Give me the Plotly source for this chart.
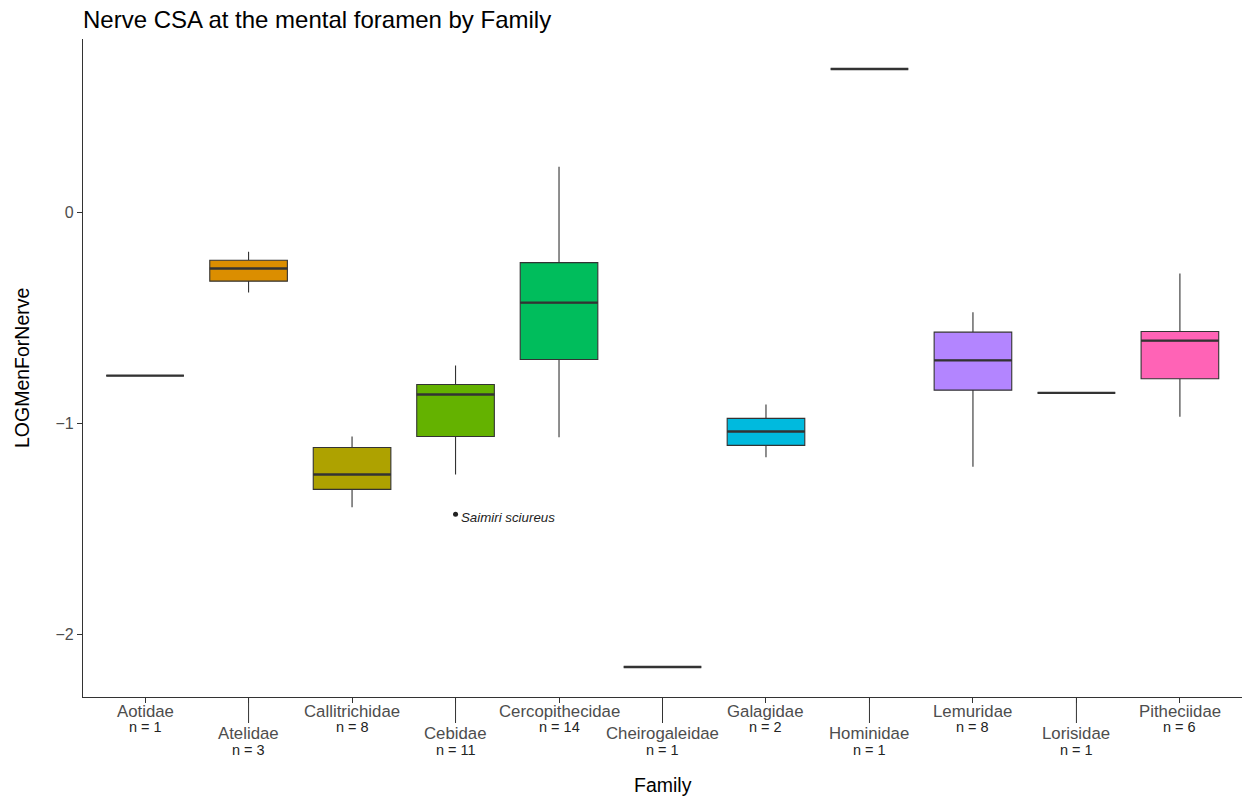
import plotly.graph_objects as go

families = ["Aotidae", "Atelidae", "Callitrichidae", "Cebidae", "Cercopithecidae",
            "Cheirogaleidae", "Galagidae", "Hominidae", "Lemuridae", "Lorisidae", "Pitheciidae"]
counts = [1, 3, 8, 11, 14, 1, 2, 1, 8, 1, 6]
lower = [-0.773, -0.379, -1.398, -1.242, -1.066, -2.156, -1.161, 0.682, -1.205, -0.855, -0.968]
q1 = [-0.773, -0.325, -1.313, -1.062, -0.697, -2.156, -1.104, 0.682, -0.842, -0.855, -0.788]
median = [-0.773, -0.265, -1.242, -0.863, -0.427, -2.156, -1.038, 0.682, -0.701, -0.855, -0.607]
q3 = [-0.773, -0.226, -1.114, -0.815, -0.237, -2.156, -0.976, 0.682, -0.567, -0.855, -0.564]
upper = [-0.773, -0.185, -1.062, -0.725, 0.218, -2.156, -0.910, 0.682, -0.472, -0.855, -0.289]
colors = ["#F8766D", "#DB8E00", "#AEA200", "#64B200", "#00BD5C", "#00C1A7",
          "#00BADE", "#00A6FF", "#B385FF", "#EF67EB", "#FF63B6"]
outlier_family = "Cebidae"
outlier_value = -1.431
outlier_label = "Saimiri sciureus"

FONT = "Liberation Sans, Arial, sans-serif"
BOXW = 0.75
W, H = 1245, 801
PLOT_H = 658

fig = go.Figure()
shapes = []
annotations = []
for i, fam in enumerate(families):
    fig.add_trace(go.Box(
        x=[i], q1=[q1[i]], median=[median[i]], q3=[q3[i]],
        lowerfence=[lower[i]], upperfence=[upper[i]],
        width=BOXW, fillcolor=colors[i], whiskerwidth=0,
        line=dict(color="#333333", width=1.1), boxpoints=False,
        showlegend=False, name=fam))
    shapes.append(dict(type="line", xref="x", yref="y",
                       x0=i - BOXW / 2, x1=i + BOXW / 2, y0=median[i], y1=median[i],
                       line=dict(color="#333333", width=2.4), layer="above"))
    low_row = (i % 2 == 1)
    if low_row:
        shapes.append(dict(type="line", xref="x", yref="paper",
                           x0=i, x1=i, y0=0, y1=-26 / PLOT_H,
                           line=dict(color="#333333", width=1), layer="above"))
    name_off = -36 if low_row else -14
    n_off = -53 if low_row else -30
    annotations.append(dict(x=i, y=0, xref="x", yref="paper", text=fam, showarrow=False,
                            xanchor="center", yanchor="middle", yshift=name_off,
                            font=dict(family=FONT, size=16.8, color="#4D4D4D")))
    annotations.append(dict(x=i, y=0, xref="x", yref="paper", text=f"n = {counts[i]}",
                            showarrow=False, xanchor="center", yanchor="middle", yshift=n_off,
                            font=dict(family=FONT, size=14.5, color="#222222")))

oi = families.index(outlier_family)
fig.add_trace(go.Scatter(x=[oi], y=[outlier_value], mode="markers",
                         marker=dict(color="#222222", size=5), showlegend=False))
annotations.append(dict(x=oi, y=outlier_value, xref="x", yref="y",
                        text="<i>" + outlier_label + "</i>",
                        showarrow=False, xanchor="left", yanchor="middle", xshift=3, yshift=-3,
                        font=dict(family=FONT, size=13.3, color="#222222")))
annotations.append(dict(x=0.5, y=0, xref="paper", yref="paper", text="Family", showarrow=False,
                        xanchor="center", yanchor="middle", yshift=-88,
                        font=dict(family=FONT, size=19.5, color="black")))
annotations.append(dict(x=0, y=0.5, xref="paper", yref="paper", text="LOGMenForNerve",
                        showarrow=False, textangle=-90, xanchor="center", yanchor="middle",
                        xshift=-61, font=dict(family=FONT, size=19.5, color="black")))

fig.update_layout(
    width=W, height=H,
    margin=dict(l=83, r=3, t=39, b=104),
    paper_bgcolor="white", plot_bgcolor="white",
    font=dict(family=FONT),
    shapes=shapes,
    annotations=annotations,
    title=dict(text="Nerve CSA at the mental foramen by Family",
               x=0, xanchor="left", xref="paper", y=1 - 20 / H, yref="container",
               yanchor="middle", font=dict(family=FONT, size=24, color="black")),
    xaxis=dict(range=[-0.6, 10.6], tickmode="array", tickvals=list(range(len(families))),
               showticklabels=False, automargin=False, showgrid=False, zeroline=False,
               showline=True, linecolor="#333333", linewidth=1.2,
               ticks="outside", ticklen=5, tickcolor="#333333"),
    yaxis=dict(range=[-2.298, 0.824], tickvals=[-2, -1, 0], ticktext=["\u22122", "\u22121", "0"],
               automargin=False, showgrid=False, zeroline=False,
               showline=True, linecolor="#333333", linewidth=1.2,
               ticks="outside", ticklen=5, tickcolor="#333333",
               tickfont=dict(family=FONT, size=16, color="#4D4D4D")),
)

fig.write_html("out.html", config={"displayModeBar": False},
               post_script="document.body.style.margin='0';document.body.style.overflow='hidden';")
